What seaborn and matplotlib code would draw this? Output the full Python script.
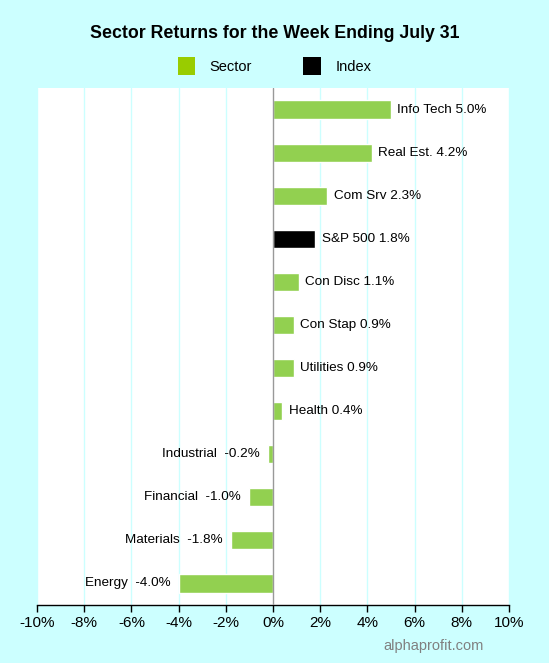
import matplotlib
matplotlib.use("Agg")
import matplotlib.pyplot as plt
import seaborn as sns
import pandas as pd
from matplotlib.patches import Patch

sectors = ["Info Tech", "Real Est.", "Com Srv", "S&P 500", "Con Disc", "Con Stap",
           "Utilities", "Health", "Industrial", "Financial", "Materials", "Energy"]
returns = [5.0, 4.2, 2.3, 1.8, 1.1, 0.9, 0.9, 0.4, -0.2, -1.0, -1.8, -4.0]
kinds = ["Sector", "Sector", "Sector", "Index", "Sector", "Sector",
         "Sector", "Sector", "Sector", "Sector", "Sector", "Sector"]
xticks = [-10, -8, -6, -4, -2, 0, 2, 4, 6, 8, 10]

df = pd.DataFrame({"sector": sectors, "ret": returns, "kind": kinds})

sns.set_theme(style="white")
plt.rcParams['font.family'] = ['Liberation Sans', 'DejaVu Sans']
plt.rcParams['text.color'] = 'black'
plt.rcParams['xtick.color'] = 'black'
plt.rcParams['xtick.labelcolor'] = 'black'

BG = "#CCFFFF"
fig = plt.figure(figsize=(5.49, 6.63), dpi=100, facecolor=BG)
ax = fig.add_axes([37/549, 58/663, 472/549, 517/663])
ax.set_facecolor("white")

sns.barplot(data=df, x="ret", y="sector", hue="kind", order=sectors,
            palette={"Sector": "#92D050", "Index": "#000000"},
            dodge=False, width=0.42, orient="h", ax=ax, legend=False,
            saturation=1)

ax.set_xlim(-10, 10)
ax.set_ylim(len(sectors) - 0.5, -0.5)
ax.set_xticks(xticks)
ax.set_xticklabels([f"{t}%" for t in xticks], fontsize=11, color="black")
ax.set_yticks([])
ax.set_xlabel("")
ax.set_ylabel("")
for t in xticks:
    if t != 0:
        ax.axvline(t, color="#CCFFFF", lw=1, zorder=0)
ax.axvline(0, color="#999999", lw=1, zorder=3)

for s in ["top", "right", "left"]:
    ax.spines[s].set_visible(False)
ax.spines["bottom"].set_color("black")
ax.spines["bottom"].set_linewidth(1)
ax.tick_params(axis="x", length=5, width=1, color="black", direction="out", pad=3, bottom=True)

for i, (name, v) in enumerate(zip(sectors, returns)):
    label = f"{name}  {v:.1f}%" if v < 0 else f"{name} {v:.1f}%"
    if v >= 0:
        ax.annotate(label, (v, i), xytext=(4.5, 0), textcoords="offset points",
                    ha="left", va="center", fontsize=9.7, color="black")
    else:
        ax.annotate(label, (v, i), xytext=(-6, 0), textcoords="offset points",
                    ha="right", va="center", fontsize=9.7, color="black")

fig.text(0.5, 1 - 33/663, "Sector Returns for the Week Ending July 31",
         ha="center", va="center", fontsize=12.8, fontweight="bold", color="black")

handles = [Patch(facecolor="#99CC00", edgecolor="none", label="Sector"),
           Patch(facecolor="#000000", edgecolor="none", label="Index")]
fig.legend(handles=handles, loc="center", bbox_to_anchor=(0.5, 1 - 66/663),
           ncol=2, frameon=False, fontsize=10.5, handlelength=1.2, handleheight=1.6,
           columnspacing=3.5, handletextpad=1.0, labelcolor="black")

fig.text(484/549, 1 - 646/663, "alphaprofit.com", ha="right", va="center",
         fontsize=10.5, color="#808080")

fig.savefig("out.png", dpi=100, facecolor=BG)
